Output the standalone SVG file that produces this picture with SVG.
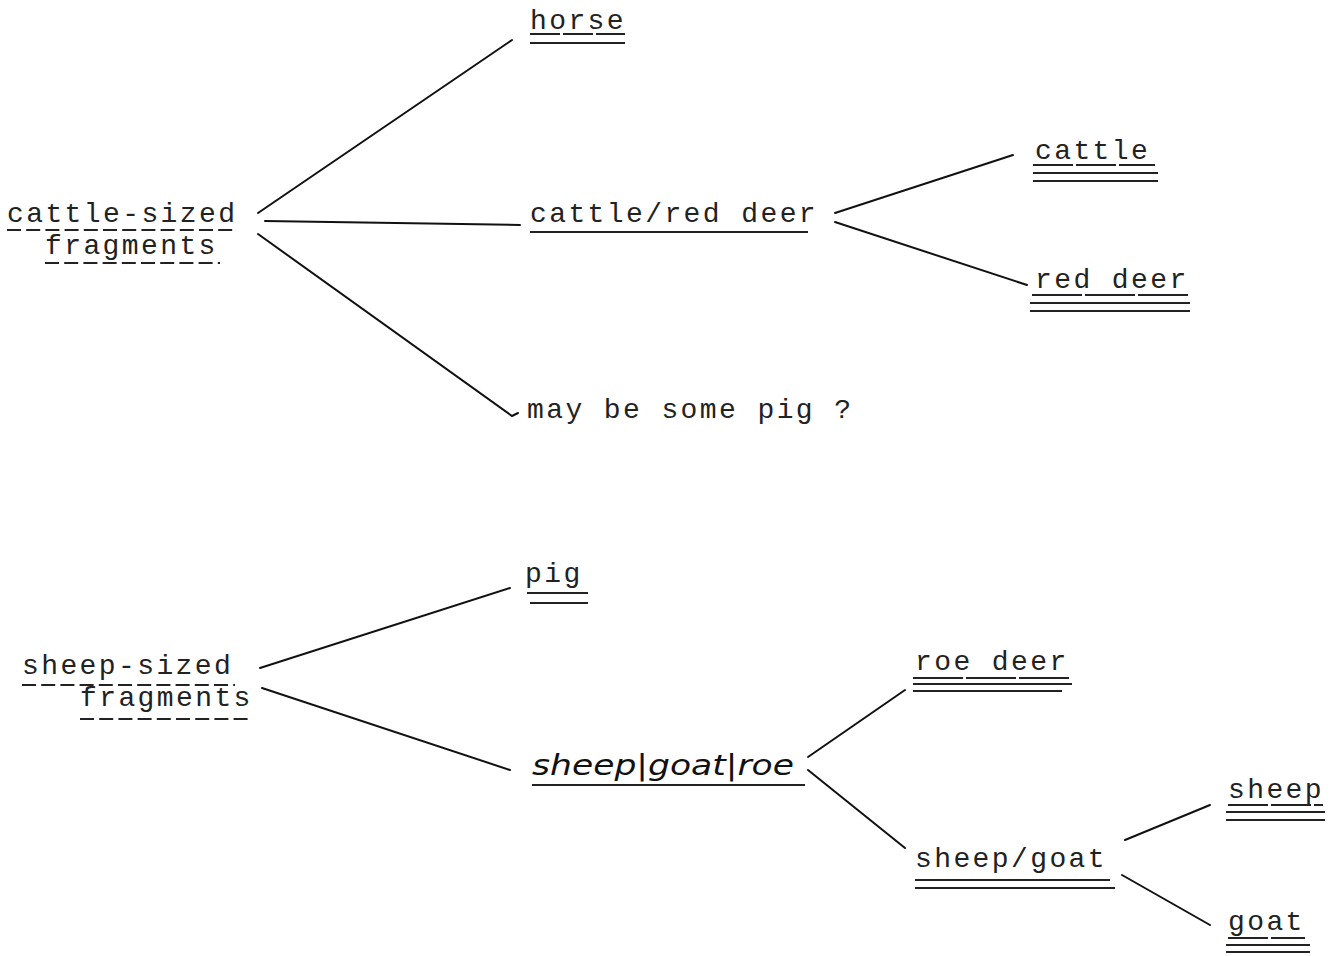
<svg xmlns="http://www.w3.org/2000/svg" width="1335" height="956" viewBox="0 0 1335 956">
<style>
.t{font-family:"Liberation Mono","Courier New",monospace;font-size:28px;letter-spacing:2.4px;fill:#222}
.h{font-family:"DejaVu Sans","Noto Sans",sans-serif;font-style:italic;font-size:29px;fill:#111}
.u{stroke:#222;stroke-width:2;fill:none}
.d{stroke:#222;stroke-width:2.2;fill:none;stroke-dasharray:14 5.2}
.c{stroke:#111;stroke-width:2;fill:none;stroke-linecap:round}
</style>
<rect width="1335" height="956" fill="#fff"/>
<g id="connectors">
<path class="c" d="M258 213 L512 40"/>
<path class="c" d="M265 221 L520 225"/>
<path class="c" d="M258 234 L512 416 l6 -3"/>
<path class="c" d="M835 213 L1013 155"/>
<path class="c" d="M835 222 L1027 285"/>
<path class="c" d="M260 668 L510 588"/>
<path class="c" d="M262 688 L510 770"/>
<path class="c" d="M808 757 L905 690"/>
<path class="c" d="M808 770 L905 848"/>
<path class="c" d="M1125 840 L1210 805"/>
<path class="c" d="M1122 875 L1210 925"/>
</g>
<g id="cattle-sized">
<text class="t" x="7" y="222">cattle-sized</text>
<text class="t" x="45" y="254">fragments</text>
<line class="d" x1="7" y1="230" x2="237" y2="230"/>
<line class="d" x1="45" y1="263" x2="220" y2="263"/>
</g>
<g id="horse">
<text class="t" x="530" y="29">horse</text>
<line class="d" x1="530" y1="34" x2="625" y2="34" style="stroke-dasharray:30 3"/>
<line class="u" x1="530" y1="43" x2="625" y2="43"/>
</g>
<g id="cattle-red-deer">
<text class="t" x="530" y="222">cattle/red deer</text>
<line class="u" x1="530" y1="232" x2="808" y2="232"/>
</g>
<g id="pig-maybe">
<text class="t" x="527" y="418">may be some pig ?</text>
</g>
<g id="cattle">
<text class="t" x="1035" y="159">cattle</text>
<line class="d" x1="1033" y1="165" x2="1155" y2="165" style="stroke-dasharray:40 3"/>
<line class="u" x1="1033" y1="173" x2="1158" y2="173"/>
<line class="u" x1="1033" y1="181" x2="1158" y2="181"/>
</g>
<g id="red-deer">
<text class="t" x="1035" y="288">red deer</text>
<line class="d" x1="1032" y1="295" x2="1188" y2="295" style="stroke-dasharray:50 3"/>
<line class="u" x1="1030" y1="303" x2="1190" y2="303"/>
<line class="u" x1="1030" y1="311" x2="1190" y2="311"/>
</g>
<g id="sheep-sized">
<text class="t" x="22" y="674">sheep-sized</text>
<text class="t" x="80" y="706">fragments</text>
<line class="d" x1="22" y1="685" x2="235" y2="685"/>
<line class="d" x1="80" y1="719" x2="252" y2="719"/>
</g>
<g id="pig">
<text class="t" x="525" y="582">pig</text>
<line class="u" x1="527" y1="593" x2="588" y2="593"/>
<line class="u" x1="530" y1="603" x2="588" y2="603"/>
</g>
<g id="sheep-goat-roe">
<text class="h" x="532" y="775" textLength="262" lengthAdjust="spacingAndGlyphs">sheep|goat|roe</text>
<line class="u" x1="532" y1="785" x2="805" y2="785"/>
</g>
<g id="roe-deer">
<text class="t" x="915" y="670">roe deer</text>
<line class="d" x1="913" y1="678" x2="1072" y2="678" style="stroke-dasharray:50 3"/>
<line class="u" x1="913" y1="684" x2="1072" y2="684"/>
<line class="u" x1="913" y1="691" x2="1062" y2="691"/>
</g>
<g id="sheep-goat">
<text class="t" x="915" y="867">sheep/goat</text>
<line class="u" x1="915" y1="880" x2="1110" y2="880"/>
<line class="u" x1="915" y1="888" x2="1115" y2="888"/>
</g>
<g id="sheep">
<text class="t" x="1228" y="798">sheep</text>
<line class="d" x1="1228" y1="805" x2="1323" y2="805" style="stroke-dasharray:40 3"/>
<line class="u" x1="1226" y1="812" x2="1325" y2="812"/>
<line class="u" x1="1226" y1="820" x2="1325" y2="820"/>
</g>
<g id="goat">
<text class="t" x="1228" y="930">goat</text>
<line class="d" x1="1228" y1="938" x2="1305" y2="938" style="stroke-dasharray:40 3"/>
<line class="u" x1="1226" y1="945" x2="1310" y2="945"/>
<line class="u" x1="1226" y1="952" x2="1310" y2="952"/>
</g>
</svg>
